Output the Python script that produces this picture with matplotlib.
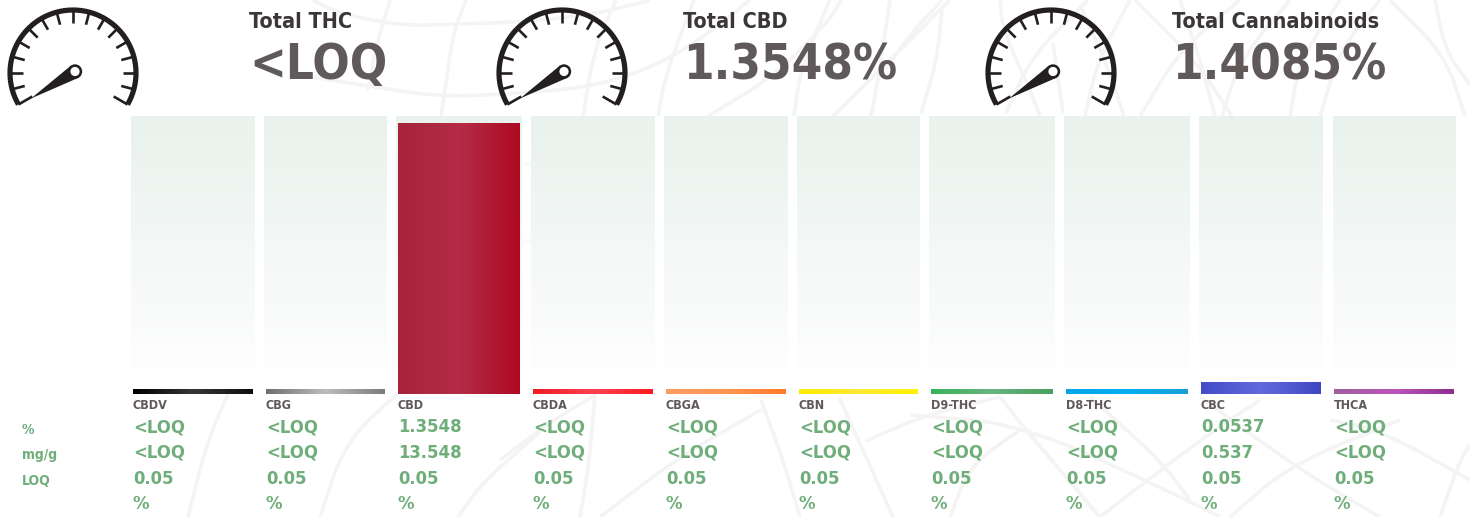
import numpy as np
import matplotlib
matplotlib.use('Agg')
import matplotlib.pyplot as plt
from matplotlib.colors import LinearSegmentedColormap
from matplotlib.patches import Circle, Polygon, Rectangle

W, H = 1470, 517

# summary gauges
summary_titles = ['Total THC', 'Total CBD', 'Total Cannabinoids']
summary_values = ['<LOQ', '1.3548%', '1.4085%']

# table
names = ['CBDV', 'CBG', 'CBD', 'CBDA', 'CBGA', 'CBN', 'D9-THC', 'D8-THC', 'CBC', 'THCA']
pct_text = ['<LOQ', '<LOQ', '1.3548', '<LOQ', '<LOQ', '<LOQ', '<LOQ', '<LOQ', '0.0537', '<LOQ']
mgg_text = ['<LOQ', '<LOQ', '13.548', '<LOQ', '<LOQ', '<LOQ', '<LOQ', '<LOQ', '0.537', '<LOQ']
loq_text = ['0.05'] * 10
unit_text = ['%'] * 10
row_labels = ['%', 'mg/g', 'LOQ']

# bar level in %, <LOQ gets a small stub
levels = [0.025, 0.025, 1.3548, 0.025, 0.025, 0.025, 0.025, 0.025, 0.06, 0.025]
bar_colors = [
    ['#000000', '#3a3538', '#0e0e0e'],
    ['#6e6e6e', '#bdbdbd', '#7b7b7b'],
    ['#a6233b', '#b42c47', '#ae0a22'],
    ['#ee1c25', '#ff4152', '#ff1a22'],
    ['#fd9b65', '#ff9650', '#fe7a2a'],
    ['#ffed00', '#fde935', '#fff200'],
    ['#36b45a', '#68b47e', '#46a05e'],
    ['#00a6e8', '#00aeef', '#1c9fd8'],
    ['#434bc8', '#626bdc', '#3e46c2'],
    ['#9c6199', '#bb55bb', '#8f2d8f'],
]

# layout, pixels
bar_left = [133, 266, 398, 533, 666, 799, 931, 1066, 1201, 1334]
bar_right = [253, 385, 520, 653, 786, 918, 1053, 1188, 1321, 1454]
panel_left = [131, 264, 396, 531, 664, 797, 929, 1064, 1199, 1333]
panel_right = [255, 387, 522, 655, 788, 920, 1055, 1190, 1323, 1456]
gauge_x = [73, 562, 1051]
title_x = [249, 683, 1172]
big_x = [249, 683, 1172]
PX_PER_PCT = 200

TITLE_C = '#3b3637'
BIG_C = '#5f595a'
GREEN = '#6fae7a'
DARK = '#231f20'
BG_LINE = '#f4f4f4'

# faint backdrop pattern, traced by eye
bg_lines = [
    [(313, 0), (335, 12), (400, 26), (460, 24), (520, 22), (590, 15), (640, 3), (650, 0)],
    [(300, 75), (380, 88), (444, 97), (523, 93), (590, 87), (651, 68), (700, 40), (750, 0)],
    [(390, 0), (375, 50), (368, 90)],
    [(466, 0), (453, 33), (444, 97), (441, 116)],
    [(616, 0), (594, 50), (583, 116)],
    [(694, 0), (666, 73), (658, 116)],
    [(830, 0), (801, 67), (794, 116)],
    [(890, 0), (873, 110), (870, 116)],
    [(708, 116), (773, 77), (830, 20), (841, 0)],
    [(833, 116), (880, 70), (940, 10), (950, 0)],
    [(942, 0), (910, 35), (885, 70)],
    [(942, 10), (937, 60), (921, 113)],
    [(1000, 0), (1003, 30), (1030, 90), (1040, 116)],
    [(1088, 0), (1031, 57), (1006, 113)],
    [(1053, 43), (1063, 113)],
    [(1081, 7), (1105, 60), (1124, 116)],
    [(1130, 0), (1098, 60), (1085, 116)],
    [(1135, 0), (1195, 60), (1232, 116)],
    [(1180, 0), (1200, 60), (1215, 116)],
    [(1240, 0), (1180, 50), (1140, 116)],
    [(1290, 0), (1240, 60), (1222, 116)],
    [(1340, 0), (1300, 60), (1290, 116)],
    [(1390, 0), (1445, 55), (1465, 116)],
    [(1435, 0), (1445, 50), (1470, 85)],
    [(1380, 0), (1340, 50), (1320, 116)],
    [(228, 394), (207, 442), (188, 517)],
    [(397, 394), (345, 442), (320, 517)],
    [(540, 432), (483, 482), (458, 517)],
    [(595, 394), (589, 464), (580, 517)],
    [(500, 460), (553, 420), (596, 395)],
    [(600, 517), (679, 457), (761, 410)],
    [(761, 400), (782, 457), (800, 517)],
    [(839, 397), (893, 517)],
    [(866, 441), (925, 415), (1000, 397)],
    [(1000, 397), (1021, 424), (1060, 470), (1100, 517)],
    [(910, 415), (1021, 424), (1160, 487), (1220, 517)],
    [(1020, 430), (970, 465), (950, 517)],
    [(1090, 397), (1160, 460), (1190, 500)],
    [(1200, 397), (1300, 470), (1380, 517)],
    [(1330, 420), (1380, 430), (1470, 480)],
    [(1230, 517), (1290, 465), (1400, 420)],
    [(1100, 517), (1200, 440), (1260, 400)],
    [(1440, 517), (1460, 460), (1470, 445)],
    [(520, 165), (531, 163)],
    [(520, 243), (531, 240)],
]


def smooth(points, passes=3):
    # chaikin corner cutting, keeps the end points
    pts = np.array(points, dtype=float)
    for _ in range(passes):
        q = 0.75 * pts[:-1] + 0.25 * pts[1:]
        r = 0.25 * pts[:-1] + 0.75 * pts[1:]
        mid = np.empty((2 * len(q), 2))
        mid[0::2] = q
        mid[1::2] = r
        pts = np.vstack([pts[0], mid, pts[-1]])
    return pts


def draw_gauge(ax, cx, cy=73):
    R = 63
    lw = 5.2 * 0.72
    t = np.radians(np.linspace(210, -30, 200))
    ax.plot(cx + R * np.cos(t), cy - R * np.sin(t), color=DARK, lw=lw,
            solid_capstyle='butt', zorder=5)
    for deg in np.arange(210, -31, -15):
        a = np.radians(deg)
        r0 = 47 if deg in (210, -30) else 50
        ax.plot([cx + r0 * np.cos(a), cx + R * np.cos(a)],
                [cy - r0 * np.sin(a), cy - R * np.sin(a)],
                color=DARK, lw=1.9, solid_capstyle='butt', zorder=5)
    # needle and hub
    hx, hy = cx + 2, 71.5
    tip = (cx - 42, 98.5)
    ang = np.arctan2(tip[1] - hy, tip[0] - hx) + np.pi / 2
    r = 7.2
    ax.add_patch(Polygon([tip, (hx + r * np.cos(ang), hy + r * np.sin(ang)),
                          (hx - r * np.cos(ang), hy - r * np.sin(ang))],
                         closed=True, fc=DARK, ec='none', zorder=5))
    ax.add_patch(Circle((hx, hy), r, fc=DARK, ec='none', zorder=5))
    ax.add_patch(Circle((hx, hy), 4.6, fc='white', ec='none', zorder=6))


fig = plt.figure(figsize=(W / 100, H / 100), dpi=100, facecolor='white')
plt.rcParams['font.family'] = 'DejaVu Sans'
ax = fig.add_axes([0, 0, 1, 1])
ax.set_xlim(0, W)
ax.set_ylim(H, 0)
ax.axis('off')

for line in bg_lines:
    p = smooth(line)
    ax.plot(p[:, 0], p[:, 1], color=BG_LINE, lw=2.6, solid_capstyle='butt', zorder=1)

# white veil over the chart zone, the panels sit on it
ax.add_patch(Rectangle((131, 116), W - 131, 278, fc='white', ec='none', alpha=0.55, zorder=2))

panel_cmap = LinearSegmentedColormap.from_list('panel', ['#e9f2ed', '#f4f8f6', '#ffffff'])
grad = np.linspace(0, 1, 256).reshape(-1, 1)
for l, r in zip(panel_left, panel_right):
    ax.imshow(grad, extent=(l, r, 386, 116), cmap=panel_cmap, aspect='auto', zorder=3,
              origin='upper')
ax.set_xlim(0, W)
ax.set_ylim(H, 0)

# bars live on their own value axis, 0% at pixel row 394
ax_bar = fig.add_axes([0, (H - 394) / H, 1, 394 / H], zorder=4)
ax_bar.patch.set_alpha(0)
ax_bar.axis('off')
ramp = np.linspace(0, 1, 256).reshape(1, -1)
for i, lvl in enumerate(levels):
    c = LinearSegmentedColormap.from_list(names[i], bar_colors[i])
    ax_bar.imshow(ramp, extent=(bar_left[i], bar_right[i], 0, lvl), cmap=c, aspect='auto')
ax_bar.set_xlim(0, W)
ax_bar.set_ylim(0, 394 / PX_PER_PCT)

for cx in gauge_x:
    draw_gauge(ax, cx)

txt = dict(fontweight='bold', fontstretch='condensed', va='baseline', zorder=7)
for i in range(3):
    ax.text(title_x[i], 28, summary_titles[i], fontsize=15.5, color=TITLE_C, **txt)
    ax.text(big_x[i], 79, summary_values[i], fontsize=35.3, color=BIG_C, **txt)

for i, x in enumerate(bar_left):
    ax.text(x, 409, names[i], fontsize=9, color=BIG_C, **txt)
    ax.text(x, 432.5, pct_text[i], fontsize=13.2, color=GREEN, **txt)
    ax.text(x, 457.5, mgg_text[i], fontsize=13.2, color=GREEN, **txt)
    ax.text(x, 484, loq_text[i], fontsize=13.2, color=GREEN, **txt)
    ax.text(x, 509, unit_text[i], fontsize=13.2, color=GREEN, **txt)

for label, y in zip(row_labels, [434, 459, 485]):
    ax.text(22, y, label, fontsize=10, color=GREEN, **txt)

fig.savefig('out.png', dpi=100)
